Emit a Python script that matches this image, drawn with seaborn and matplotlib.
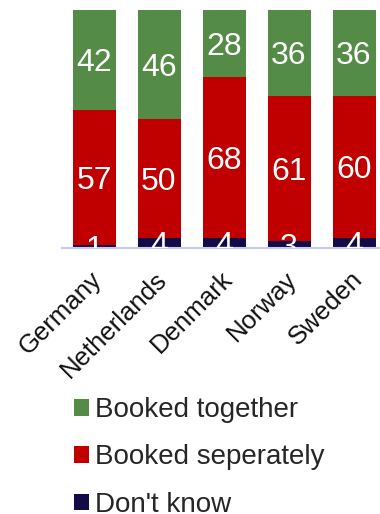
import matplotlib
matplotlib.use("Agg")
import matplotlib.pyplot as plt
from matplotlib.patches import Patch
from matplotlib.transforms import ScaledTranslation
import numpy as np
import pandas as pd
import seaborn as sns

countries = ["Germany", "Netherlands", "Denmark", "Norway", "Sweden"]
booked_together = [42, 46, 28, 36, 36]
booked_separately = [57, 50, 68, 61, 60]
dont_know = [1, 4, 4, 3, 4]

series_names = ["Booked together", "Booked seperately", "Don't know"]
series_colors = ["#548B46", "#C00000", "#130B45"]

sns.set_theme(style="white")
plt.rcParams["font.family"] = ["Liberation Sans", "DejaVu Sans"]

fig = plt.figure(figsize=(3.8, 5.14), dpi=100)
ax = fig.add_axes([61.5 / 380, 1 - 247.7 / 514, 325 / 380, 237.7 / 514])

df = pd.DataFrame({
    "country": countries,
    "dk": dont_know,
    "sep": booked_separately,
    "tog": booked_together,
})
# stacked from the bottom: don't know, separately, together
df["dk_top"] = df["dk"]
df["sep_top"] = df["dk"] + df["sep"]
df["tog_top"] = df["sep_top"] + df["tog"]

bar_w = 43 / 65
for col, color in [("tog_top", series_colors[0]),
                   ("sep_top", series_colors[1]),
                   ("dk_top", series_colors[2])]:
    sns.barplot(data=df, x="country", y=col, color=color, width=bar_w,
                linewidth=0, saturation=1, ax=ax, order=countries)

# segment value labels, centred in each segment
for i in range(len(countries)):
    segs = [
        (0, df["dk_top"][i], dont_know[i]),
        (df["dk_top"][i], df["sep_top"][i], booked_separately[i]),
        (df["sep_top"][i], df["tog_top"][i], booked_together[i]),
    ]
    for lo, hi, val in segs:
        ax.text(i, (lo + hi) / 2, str(val), ha="center",
                va="center_baseline", color="white", fontsize=23,
                clip_on=True)

ax.set_ylim(0, 100)
ax.set_xlim(-0.5, 4.5)
ax.set_xlabel("")
ax.set_ylabel("")
ax.set_yticks([])
for side in ["left", "right", "top"]:
    ax.spines[side].set_visible(False)
ax.spines["bottom"].set_color("#C8C8F4")
ax.spines["bottom"].set_linewidth(1.5)
ax.tick_params(axis="x", length=0, pad=11)
ax.set_xticks(range(len(countries)))
ax.set_xticklabels(countries, rotation=45, ha="right",
                   rotation_mode="anchor", fontsize=18.5, color="#111111")
# nudge the slanted labels a little down and to the left
nudge = ScaledTranslation(-4 / 100, -4 / 100, fig.dpi_scale_trans)
for lbl in ax.get_xticklabels():
    lbl.set_transform(lbl.get_transform() + nudge)

handles = [Patch(facecolor=c, edgecolor="none") for c in series_colors]
fig.legend(handles, series_names, loc="center left",
           bbox_to_anchor=(74 / 380, 1 - 457.5 / 514), frameon=False,
           fontsize=20, handlelength=0.54, handleheight=0.54,
           handletextpad=0.22, labelspacing=0.77, borderpad=0,
           borderaxespad=0)

fig.savefig("out.png", dpi=100)
